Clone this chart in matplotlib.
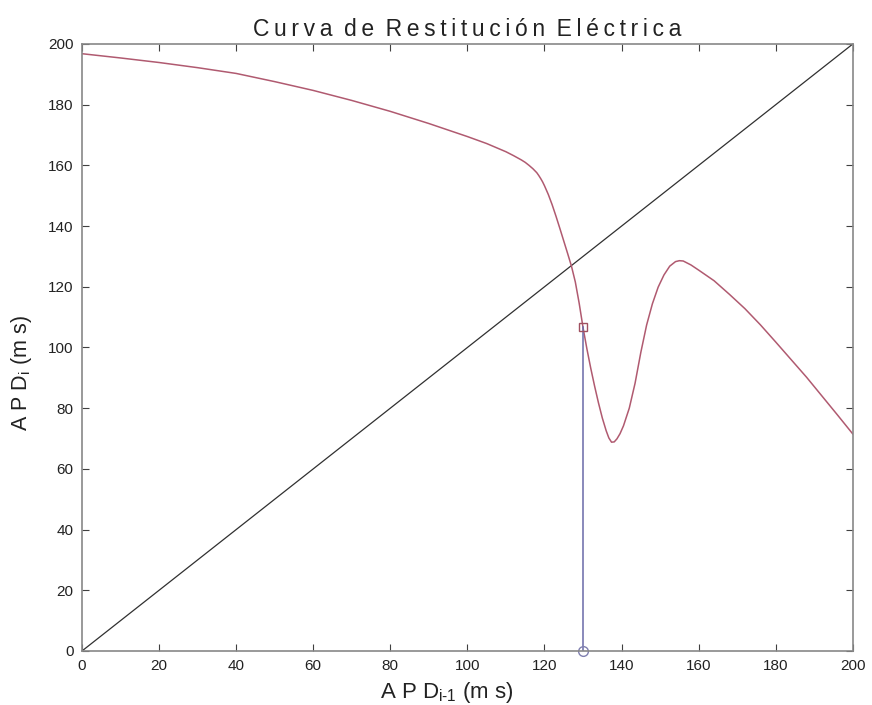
import numpy as np
import matplotlib.pyplot as plt

plt.rcParams['font.family'] = ['Liberation Sans', 'DejaVu Sans']

# restitution curve APD_i vs APD_{i-1} (ms)
apd_prev = [0, 10, 20, 30, 40, 50, 60, 70, 80, 90, 100, 105, 110, 112, 114,
            115, 116, 117, 118, 118.5, 119, 119.5, 120, 121, 122, 123, 124,
            125, 126, 127, 128, 129, 130, 131, 132, 133, 134, 135, 136, 136.7,
            137.4, 138.1, 138.8, 139.6, 140.5, 142, 143.5, 145, 146.5, 148,
            149.5, 151, 152.5, 154, 155, 156, 158, 160, 164, 168, 172, 176,
            180, 184, 188, 192, 196, 200]
apd_next = [196.8, 195.4, 193.9, 192.2, 190.3, 187.6, 184.7, 181.4, 177.8,
            173.8, 169.5, 167.2, 164.5, 163.2, 161.8, 161, 160, 158.9, 157.6,
            156.7, 155.7, 154.6, 153.3, 150.4, 147, 143.2, 139.2, 135.1, 131,
            126.8, 121.6, 114.6, 106.6, 99.6, 93.2, 87.3, 81.8, 76.8, 72.6,
            70.2, 68.8, 68.9, 69.9, 71.6, 74.2, 80, 88.2, 98.4, 107.4, 114.4,
            119.9, 123.9, 126.8, 128.3, 128.6, 128.5, 127.2, 125.5, 122, 117.5,
            112.8, 107.5, 101.8, 96, 90.2, 84, 77.8, 71.5]

# identity line and the selected operating point
diag = [0, 200]
stim_x = 130
stim_y = 106.6

fig = plt.figure(figsize=(8.72, 7.05), dpi=100)
ax = fig.add_axes([0.094, 0.0766, 0.884, 0.861])

ax.plot(diag, diag, color='#303030', lw=0.9)
ax.plot(apd_prev, apd_next, color='#b05a70', lw=1.1)
ax.plot([stim_x, stim_x], [0, stim_y], color='#6a6aa8', lw=1.1)
ax.plot(stim_x, stim_y, 's', mfc='none', mec='#a05060', ms=6, mew=1)
ax.plot(stim_x, 0, 'o', mfc='none', mec='#8080b0', ms=7, mew=1, clip_on=False)

ax.set_xlim(0, 200)
ax.set_ylim(0, 200)
ax.set_xticks(np.arange(0, 201, 20))
ax.set_yticks(np.arange(0, 201, 20))
ax.tick_params(direction='in', top=True, right=True, length=5, pad=6,
               labelsize=11, colors='#404040', labelcolor='#222222')
for s in ax.spines.values():
    s.set_color('#888888')
    s.set_linewidth(1.2)

title = 'C u r v a   d e   R e s t i t u c i ó n   E l é c t r i c a'
ax.set_title(title.replace('   ', '\u2002').replace(' ', '\u2009'),
             fontsize=16.5, color='#222222', pad=6)
ax.set_xlabel('A P D$_\\mathregular{i\u20101}$ (m s)', fontsize=16,
              color='#222222')
ax.set_ylabel('A P D$_\\mathregular{i}$ (m s)', fontsize=15.5,
              color='#222222')
ax.xaxis.set_label_coords(0.473, -0.047)
ax.yaxis.set_label_coords(-0.062, 0.458)

fig.savefig('out.png', dpi=100)
